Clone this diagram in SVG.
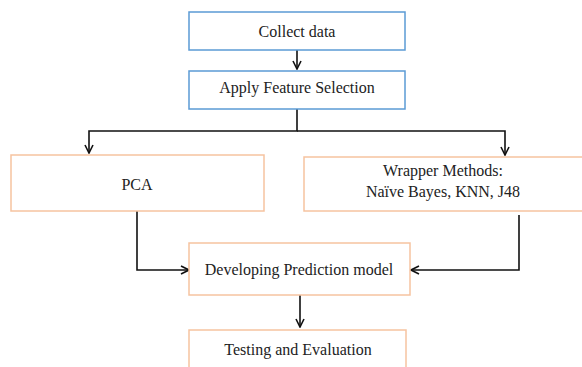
<svg xmlns="http://www.w3.org/2000/svg" width="582" height="367" viewBox="0 0 582 367">
<style>
.blue{fill:#fff;stroke:#5b9bd5;stroke-width:1.5}
.orange{fill:#fff;stroke:#f6c3a0;stroke-width:1.5}
text{font-family:"Liberation Serif","Times New Roman",serif;font-size:16px;fill:#222;text-anchor:middle;dominant-baseline:central}
.c{fill:none;stroke:#111;stroke-width:1.6}
</style>
<defs>
<marker id="ah" viewBox="0 0 10 10" refX="9" refY="5" markerWidth="10" markerHeight="10" markerUnits="userSpaceOnUse" orient="auto">
<path d="M1,1 L9,5 L1,9" fill="none" stroke="#111" stroke-width="1.6"/>
</marker>
</defs>
<rect width="582" height="367" fill="#fff"/>
<g id="connectors">
<path class="c" d="M297,50 V69" marker-end="url(#ah)"/>
<path class="c" d="M297,109 V131 H89 V153" marker-end="url(#ah)"/>
<path class="c" d="M297,131 H505 V155" marker-end="url(#ah)"/>
<path class="c" d="M137,211 V270 H189" marker-end="url(#ah)"/>
<path class="c" d="M519,215 V270 H411" marker-end="url(#ah)"/>
<path class="c" d="M300,295 V327" marker-end="url(#ah)"/>
</g>
<g id="collect"><rect class="blue" x="189" y="12" width="216" height="38"/><text x="297" y="31">Collect data</text></g>
<g id="apply"><rect class="blue" x="189" y="71" width="216" height="38"/><text x="297" y="87">Apply Feature Selection</text></g>
<g id="pca"><rect class="orange" x="11" y="155" width="253" height="56"/><text x="137" y="184">PCA</text></g>
<g id="wrapper"><rect class="orange" x="304" y="157" width="280" height="54"/><text x="443" y="170">Wrapper Methods:</text><text x="443" y="191">Naïve Bayes, KNN, J48</text></g>
<g id="develop"><rect class="orange" x="189" y="243" width="221" height="52"/><text x="299" y="269">Developing Prediction model</text></g>
<g id="testing"><rect class="orange" x="189" y="330" width="217" height="50"/><text x="298" y="349">Testing and Evaluation</text></g>
</svg>
